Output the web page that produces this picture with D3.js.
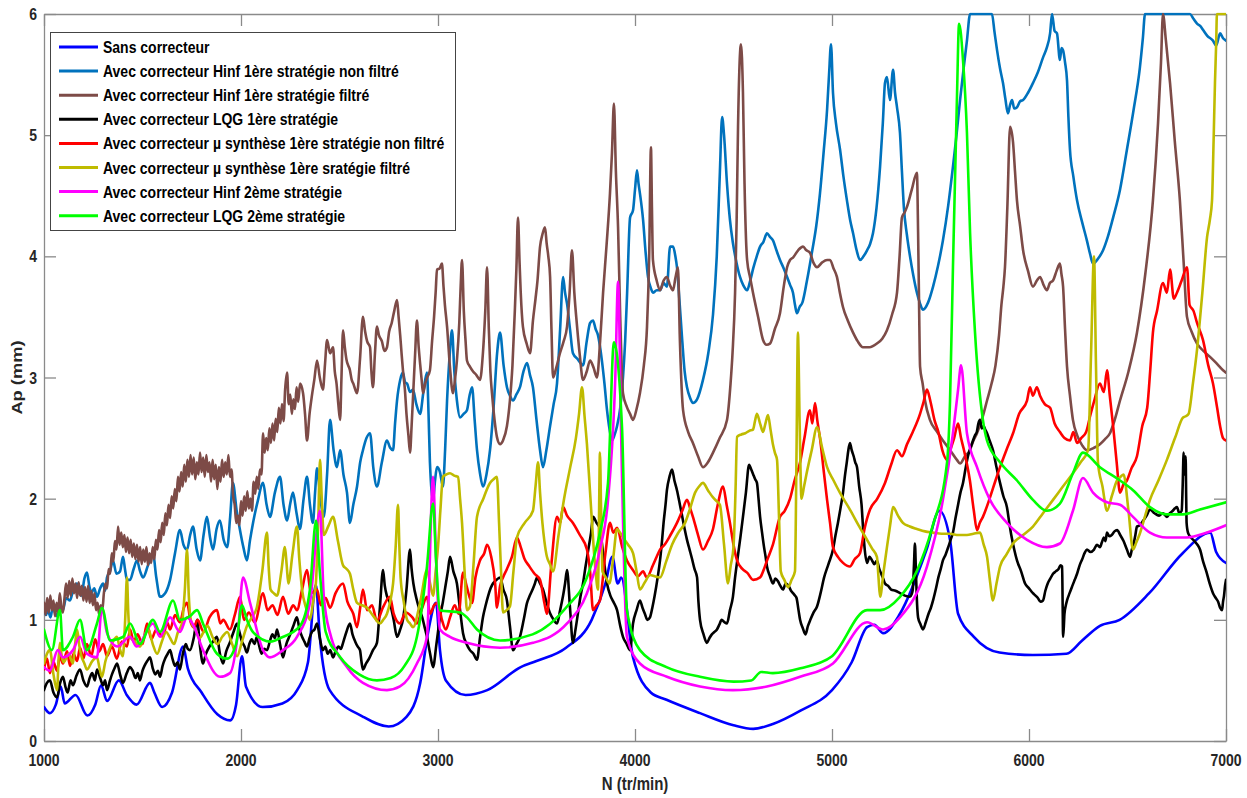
<!DOCTYPE html>
<html><head><meta charset="utf-8">
<script src="https://cdn.jsdelivr.net/npm/d3@7"></script>
<style>
body{margin:0;background:#fff}
svg{display:block}
text{font-family:"Liberation Sans",Arial,sans-serif;font-weight:bold}
</style>
</head><body>
<svg id="chart" width="1247" height="798"></svg>
<script>
const xTicks=[1000,2000,3000,4000,5000,6000,7000];
const yTicks=[0,1,2,3,4,5,6];
const xTitle="N (tr/min)";
const yTitle="Ap (mm)";
const seriesNames=["Sans correcteur","Avec correcteur Hinf 1ère stratégie non filtré","Avec correcteur Hinf 1ère stratégie filtré","Avec correcteur LQG 1ère stratégie","Avec correcteur µ synthèse 1ère stratégie non filtré","Avec correcteur µ synthèse 1ère sratégie filtré","Avec correcteur Hinf 2ème stratégie","Avec correcteur LQG 2ème stratégie"];
const seriesColors=["#0000ff","#0072bd","#7d4b47","#000000","#ff0000","#bfbb00","#ff00ff","#00ff00"];

const sansCorrecteur=[[1000,0.28],[1030,0.23],[1060,0.30],[1085,0.45],[1105,0.31],[1160,0.38],[1220,0.21],[1260,0.30],[1290,0.46],[1320,0.33],[1380,0.50],[1420,0.38],[1470,0.30],[1538,0.48],[1560,0.40],[1600,0.28],[1650,0.40],[1706,0.78],[1730,0.60],[1800,0.40],[1880,0.22],[1945,0.17],[1975,0.30],[2005,0.70],[2025,0.45],[2110,0.28],[2210,0.31],[2285,0.42],[2340,0.65],[2380,1.29],[2400,0.86],[2450,0.42],[2620,0.20],[2750,0.12],[2840,0.20],[2910,0.48],[2950,0.90],[2990,1.14],[3010,0.75],[3040,0.50],[3140,0.38],[3250,0.42],[3420,0.61],[3500,0.66],[3650,0.77],[3780,1.00],[3850,1.30],[3885,1.52],[3912,1.30],[3930,1.35],[3990,0.69],[4080,0.40],[4160,0.34],[4330,0.23],[4500,0.13],[4600,0.10],[4700,0.14],[4840,0.25],[5000,0.42],[5100,0.65],[5178,0.94],[5215,0.96],[5260,0.89],[5345,1.05],[5480,1.58],[5545,1.90],[5600,1.65],[5640,1.05],[5720,0.86],[5850,0.73],[6020,0.71],[6190,0.72],[6270,0.83],[6360,0.95],[6460,1.00],[6610,1.22],[6780,1.55],[6920,1.72],[6950,1.56],[7000,1.47]];

const hinf1NonFiltre=[[1000,1.10],[1010,1.04],[1020,1.08],[1033,1.02],[1046,1.12],[1056,1.06],[1066,1.03],[1080,1.10],[1096,1.08],[1112,1.18],[1132,1.16],[1150,1.26],[1168,1.30],[1180,1.22],[1190,1.20],[1205,1.34],[1218,1.39],[1230,1.28],[1240,1.22],[1255,1.26],[1269,1.19],[1285,1.26],[1300,1.30],[1310,1.24],[1320,1.35],[1335,1.40],[1350,1.49],[1368,1.38],[1386,1.40],[1401,1.52],[1411,1.42],[1421,1.33],[1437,1.33],[1455,1.42],[1472,1.49],[1488,1.40],[1503,1.35],[1528,1.45],[1553,1.55],[1570,1.35],[1589,1.19],[1615,1.22],[1640,1.33],[1665,1.55],[1690,1.74],[1708,1.62],[1726,1.58],[1742,1.70],[1756,1.77],[1775,1.58],[1792,1.49],[1810,1.70],[1827,1.85],[1843,1.68],[1858,1.58],[1876,1.75],[1893,1.82],[1912,1.66],[1930,1.60],[1945,1.85],[1959,2.13],[1978,1.90],[1995,1.74],[2012,1.60],[2030,1.49],[2046,1.66],[2061,1.80],[2085,1.98],[2112,2.13],[2130,1.95],[2147,1.85],[2172,2.05],[2198,2.18],[2216,1.95],[2234,1.82],[2250,1.96],[2264,2.05],[2282,1.88],[2299,1.75],[2318,2.00],[2335,2.18],[2350,1.95],[2365,1.80],[2376,2.05],[2386,2.25],[2403,2.00],[2420,1.85],[2437,2.20],[2452,2.65],[2470,2.40],[2487,2.26],[2503,2.40],[2520,2.20],[2538,2.05],[2553,1.80],[2570,1.95],[2589,2.10],[2605,2.30],[2619,2.40],[2637,2.50],[2655,2.54],[2672,2.25],[2690,2.10],[2715,2.30],[2741,2.48],[2757,2.42],[2772,2.40],[2782,2.62],[2792,2.81],[2808,2.98],[2822,3.04],[2833,2.96],[2843,2.95],[2858,2.88],[2873,2.90],[2890,2.78],[2909,2.70],[2926,2.88],[2944,3.04],[2952,2.70],[2959,2.30],[2975,1.99],[2985,2.15],[2995,2.26],[3010,2.22],[3025,2.10],[3036,2.40],[3046,2.81],[3060,3.20],[3071,3.39],[3083,3.05],[3096,2.81],[3112,2.67],[3130,2.70],[3147,2.73],[3160,2.85],[3173,2.92],[3186,2.65],[3198,2.40],[3213,2.21],[3228,2.10],[3246,2.20],[3264,2.40],[3282,2.75],[3300,3.20],[3315,3.37],[3333,3.10],[3350,2.92],[3365,2.85],[3381,2.81],[3398,2.86],[3416,2.92],[3434,3.05],[3452,3.12],[3467,3.02],[3482,2.92],[3500,2.65],[3518,2.40],[3533,2.26],[3550,2.40],[3569,2.60],[3587,2.78],[3604,2.95],[3620,3.40],[3635,3.83],[3645,3.70],[3655,3.61],[3670,3.40],[3685,3.20],[3710,3.15],[3736,3.10],[3755,3.30],[3772,3.45],[3787,3.47],[3800,3.40],[3812,3.35],[3832,3.14],[3845,2.95],[3858,2.73],[3870,2.58],[3883,2.48],[3895,2.52],[3909,2.60],[3925,2.75],[3939,3.00],[3950,3.30],[3960,3.70],[3975,4.32],[3990,4.38],[4000,4.55],[4010,4.71],[4018,4.60],[4025,4.52],[4041,4.30],[4053,4.05],[4066,3.83],[4080,3.74],[4091,3.70],[4110,3.72],[4127,3.72],[4145,3.78],[4162,3.75],[4178,4.08],[4193,4.08],[4205,4.00],[4213,3.91],[4225,3.65],[4240,3.30],[4252,3.05],[4264,2.92],[4280,2.83],[4294,2.79],[4315,2.82],[4345,2.98],[4372,3.20],[4396,3.52],[4415,4.00],[4431,4.70],[4442,5.15],[4452,5.00],[4467,4.60],[4482,4.30],[4497,4.11],[4515,3.95],[4533,3.83],[4550,3.76],[4569,3.72],[4585,3.80],[4600,3.90],[4618,4.00],[4635,4.08],[4652,4.12],[4670,4.19],[4685,4.16],[4701,4.13],[4718,4.05],[4736,3.97],[4755,3.90],[4772,3.83],[4788,3.76],[4802,3.70],[4812,3.60],[4822,3.53],[4835,3.58],[4850,3.62],[4873,3.80],[4900,4.05],[4920,4.25],[4939,4.52],[4957,4.85],[4975,5.21],[4985,5.50],[4995,5.75],[5005,5.35],[5020,5.10],[5041,4.88],[5058,4.66],[5076,4.46],[5092,4.30],[5107,4.19],[5125,4.05],[5142,3.97],[5160,4.00],[5178,4.05],[5193,4.10],[5208,4.19],[5226,4.40],[5244,4.74],[5258,5.10],[5269,5.43],[5279,5.48],[5294,5.29],[5310,5.54],[5320,5.35],[5330,5.23],[5345,5.02],[5355,4.70],[5365,4.40],[5380,4.18],[5396,4.00],[5413,3.84],[5431,3.70],[5447,3.61],[5462,3.56],[5488,3.62],[5513,3.75],[5538,3.92],[5563,4.13],[5590,4.42],[5614,4.74],[5632,5.00],[5650,5.29],[5668,5.55],[5685,5.78],[5701,6.00],[5812,6.00],[5825,5.85],[5838,5.70],[5853,5.55],[5868,5.43],[5880,5.30],[5893,5.18],[5904,5.25],[5914,5.29],[5925,5.22],[5939,5.23],[5955,5.28],[5970,5.29],[5995,5.35],[6020,5.43],[6045,5.52],[6071,5.64],[6090,5.72],[6107,5.84],[6117,6.00],[6130,5.86],[6142,5.84],[6157,5.62],[6165,5.72],[6173,5.70],[6183,5.60],[6193,5.45],[6200,5.15],[6208,4.88],[6225,4.66],[6244,4.46],[6270,4.28],[6294,4.13],[6310,4.02],[6325,3.94],[6350,3.98],[6376,4.05],[6400,4.16],[6427,4.32],[6462,4.55],[6497,4.88],[6530,5.20],[6563,5.56],[6578,5.80],[6589,6.00],[6817,6.00],[6835,5.96],[6853,5.92],[6870,5.90],[6883,5.87],[6905,5.82],[6934,5.78],[6950,5.74],[6970,5.84],[6985,5.80],[7000,5.78]];

const hinf1Filtre=[[1000,1.14],[1008,1.04],[1016,1.18],[1024,1.06],[1032,1.20],[1040,1.08],[1048,1.16],[1056,1.03],[1064,1.14],[1072,1.06],[1080,1.22],[1088,1.10],[1096,1.06],[1104,1.18],[1112,1.30],[1120,1.18],[1128,1.32],[1136,1.20],[1144,1.34],[1152,1.22],[1160,1.30],[1168,1.18],[1176,1.31],[1184,1.20],[1192,1.28],[1200,1.16],[1208,1.27],[1216,1.15],[1224,1.28],[1232,1.14],[1240,1.24],[1248,1.12],[1256,1.22],[1264,1.08],[1272,1.14],[1280,1.04],[1288,1.12],[1296,1.08],[1304,1.22],[1312,1.30],[1320,1.26],[1328,1.42],[1336,1.38],[1344,1.55],[1352,1.48],[1360,1.65],[1368,1.58],[1376,1.77],[1384,1.62],[1392,1.72],[1400,1.60],[1408,1.70],[1416,1.56],[1424,1.68],[1432,1.55],[1440,1.66],[1448,1.52],[1456,1.63],[1464,1.50],[1472,1.62],[1480,1.48],[1488,1.60],[1496,1.46],[1504,1.58],[1512,1.48],[1520,1.60],[1528,1.45],[1536,1.55],[1544,1.47],[1552,1.60],[1560,1.50],[1568,1.66],[1576,1.58],[1584,1.74],[1592,1.64],[1600,1.80],[1608,1.70],[1616,1.88],[1624,1.78],[1632,1.95],[1640,1.84],[1648,2.02],[1656,1.92],[1664,2.08],[1672,1.98],[1680,2.18],[1688,2.06],[1696,2.22],[1704,2.10],[1712,2.28],[1720,2.14],[1728,2.32],[1736,2.18],[1744,2.36],[1752,2.20],[1760,2.34],[1768,2.16],[1776,2.30],[1784,2.20],[1792,2.38],[1800,2.22],[1808,2.34],[1816,2.18],[1824,2.36],[1832,2.22],[1840,2.30],[1848,2.14],[1856,2.32],[1864,2.16],[1872,2.28],[1880,2.08],[1888,2.26],[1896,2.14],[1904,2.32],[1912,2.18],[1920,2.30],[1928,2.20],[1936,2.36],[1944,2.18],[1952,2.24],[1960,2.02],[1968,1.95],[1976,1.80],[1984,1.86],[1992,1.78],[2000,1.98],[2008,1.86],[2016,2.02],[2024,1.90],[2032,2.06],[2040,1.92],[2048,2.00],[2056,1.90],[2064,2.14],[2072,2.04],[2080,2.18],[2088,2.08],[2096,2.24],[2104,2.20],[2112,2.54],[2120,2.38],[2128,2.50],[2136,2.40],[2144,2.58],[2152,2.46],[2160,2.62],[2168,2.48],[2176,2.66],[2184,2.55],[2192,2.75],[2200,2.62],[2208,2.78],[2216,2.64],[2224,2.90],[2234,3.04],[2242,2.78],[2250,2.86],[2258,2.70],[2266,2.82],[2274,2.74],[2282,2.92],[2290,2.80],[2300,2.95],[2315,2.87],[2325,2.70],[2335,2.48],[2348,2.70],[2360,2.85],[2372,2.98],[2386,3.14],[2400,3.00],[2416,2.90],[2426,3.10],[2437,3.31],[2452,3.20],[2467,3.25],[2476,3.05],[2485,2.95],[2494,2.78],[2503,2.65],[2510,3.00],[2518,3.39],[2527,3.25],[2535,3.15],[2553,3.06],[2562,2.98],[2570,2.95],[2580,2.90],[2589,2.87],[2604,3.15],[2619,3.50],[2630,3.38],[2640,3.30],[2655,3.25],[2662,3.05],[2670,2.92],[2680,3.20],[2690,3.42],[2700,3.35],[2715,3.30],[2728,3.22],[2741,3.25],[2752,3.38],[2765,3.45],[2778,3.55],[2792,3.64],[2800,3.50],[2808,3.35],[2815,3.20],[2822,3.06],[2832,2.90],[2840,2.70],[2850,2.52],[2858,2.38],[2866,2.60],[2875,2.90],[2884,3.20],[2893,3.47],[2902,3.25],[2910,3.10],[2917,2.98],[2924,2.87],[2935,2.95],[2945,3.00],[2959,3.06],[2970,3.30],[2980,3.50],[2988,3.70],[2995,3.89],[3008,3.90],[3020,3.94],[3028,3.75],[3035,3.60],[3046,3.42],[3060,3.10],[3076,2.87],[3086,2.98],[3096,3.14],[3108,3.45],[3115,3.75],[3122,3.97],[3131,3.55],[3140,3.30],[3147,3.14],[3162,3.09],[3178,3.05],[3195,3.02],[3213,2.98],[3228,3.20],[3240,3.55],[3249,3.91],[3258,3.40],[3266,3.05],[3274,2.87],[3287,2.65],[3299,2.51],[3315,2.45],[3330,2.48],[3350,2.60],[3365,2.81],[3378,3.10],[3390,3.55],[3398,3.90],[3406,4.32],[3414,3.95],[3420,3.70],[3431,3.42],[3450,3.28],[3467,3.20],[3482,3.47],[3495,3.65],[3505,3.80],[3518,4.08],[3530,4.18],[3543,4.24],[3552,4.10],[3560,4.00],[3569,3.83],[3576,3.40],[3584,3.00],[3600,3.08],[3619,3.20],[3638,3.30],[3655,3.42],[3668,3.70],[3680,4.05],[3692,3.70],[3706,3.42],[3720,3.18],[3736,2.98],[3755,3.05],[3772,3.14],[3790,3.08],[3807,3.00],[3823,3.30],[3838,3.70],[3856,4.10],[3873,4.52],[3883,4.85],[3893,5.26],[3903,4.70],[3914,4.24],[3925,3.50],[3939,2.87],[3958,2.76],[3975,2.70],[3990,2.65],[4008,2.74],[4025,2.87],[4045,3.10],[4061,3.42],[4072,4.00],[4081,4.90],[4086,4.40],[4091,3.97],[4110,3.80],[4127,3.72],[4145,3.80],[4162,3.83],[4178,3.76],[4193,3.72],[4205,3.82],[4218,3.91],[4228,3.30],[4244,2.73],[4270,2.55],[4294,2.46],[4320,2.35],[4345,2.26],[4370,2.30],[4396,2.38],[4430,2.50],[4467,2.65],[4485,2.95],[4495,3.20],[4508,3.70],[4516,4.30],[4523,5.07],[4538,5.75],[4548,5.35],[4556,4.60],[4569,3.97],[4585,3.82],[4599,3.70],[4625,3.50],[4650,3.31],[4668,3.27],[4685,3.28],[4710,3.40],[4736,3.53],[4755,3.75],[4772,3.91],[4787,3.97],[4802,3.99],[4828,4.05],[4853,4.08],[4870,4.05],[4888,4.03],[4905,3.95],[4924,3.91],[4950,3.95],[4975,3.97],[4990,3.97],[5008,3.90],[5025,3.83],[5040,3.70],[5056,3.58],[5080,3.47],[5107,3.37],[5130,3.30],[5157,3.25],[5190,3.25],[5228,3.28],[5255,3.32],[5279,3.39],[5305,3.52],[5330,3.70],[5343,4.00],[5355,4.32],[5368,4.36],[5381,4.41],[5405,4.55],[5431,4.69],[5437,4.20],[5442,3.60],[5447,3.09],[5460,2.95],[5472,2.81],[5497,2.65],[5530,2.56],[5563,2.48],[5600,2.40],[5634,2.32],[5650,2.29],[5675,2.35],[5700,2.40],[5718,2.48],[5736,2.54],[5762,2.66],[5787,2.81],[5810,2.95],[5830,3.10],[5848,3.35],[5860,3.60],[5870,3.75],[5878,3.91],[5890,4.40],[5904,5.07],[5919,4.94],[5929,4.70],[5939,4.46],[5955,4.25],[5970,4.05],[5995,3.88],[6020,3.75],[6040,3.80],[6056,3.83],[6075,3.76],[6091,3.72],[6106,3.78],[6122,3.80],[6140,3.88],[6157,3.94],[6165,3.85],[6173,3.75],[6183,3.40],[6193,3.09],[6208,2.85],[6223,2.65],[6245,2.52],[6270,2.44],[6294,2.40],[6330,2.42],[6360,2.45],[6385,2.49],[6411,2.54],[6435,2.65],[6462,2.81],[6505,3.05],[6548,3.37],[6590,3.85],[6629,4.46],[6655,5.10],[6670,5.60],[6680,6.00],[6695,5.78],[6716,5.43],[6740,4.95],[6766,4.46],[6785,3.95],[6802,3.50],[6825,3.38],[6853,3.28],[6885,3.22],[6919,3.17],[6950,3.12],[6985,3.06],[7000,3.04]];

const lqg1=[[1000,0.42],[1015,0.48],[1030,0.50],[1048,0.40],[1066,0.36],[1082,0.48],[1096,0.53],[1110,0.44],[1120,0.40],[1135,0.50],[1147,0.46],[1165,0.54],[1183,0.59],[1200,0.50],[1218,0.45],[1232,0.52],[1245,0.56],[1258,0.50],[1269,0.59],[1285,0.52],[1300,0.46],[1310,0.50],[1320,0.42],[1335,0.50],[1345,0.55],[1358,0.60],[1371,0.64],[1386,0.55],[1401,0.48],[1420,0.56],[1437,0.61],[1450,0.58],[1465,0.52],[1476,0.56],[1487,0.50],[1500,0.58],[1510,0.62],[1524,0.66],[1538,0.69],[1552,0.60],[1565,0.55],[1578,0.58],[1589,0.53],[1602,0.62],[1615,0.68],[1628,0.72],[1640,0.75],[1652,0.68],[1665,0.62],[1678,0.65],[1690,0.59],[1705,0.72],[1720,0.80],[1730,0.76],[1741,0.75],[1760,0.85],[1777,1.00],[1792,0.78],[1807,0.64],[1822,0.72],[1840,0.78],[1858,0.82],[1878,0.86],[1893,0.72],[1909,0.64],[1925,0.74],[1945,0.82],[1962,0.90],[1980,0.97],[1992,0.90],[2005,0.82],[2018,0.78],[2030,0.73],[2042,0.80],[2055,0.84],[2068,0.80],[2081,0.86],[2093,0.78],[2105,0.72],[2118,0.76],[2132,0.75],[2146,0.82],[2160,0.88],[2172,0.85],[2183,0.92],[2198,0.80],[2213,0.69],[2230,0.80],[2250,0.88],[2268,0.96],[2284,1.02],[2297,0.92],[2310,0.86],[2322,0.82],[2335,0.78],[2348,0.85],[2360,0.90],[2373,0.92],[2386,0.97],[2400,0.85],[2416,0.75],[2428,0.78],[2440,0.72],[2453,0.75],[2467,0.69],[2480,0.74],[2495,0.78],[2507,0.76],[2518,0.81],[2535,0.90],[2553,0.97],[2566,0.88],[2580,0.82],[2592,0.78],[2604,0.75],[2612,0.65],[2619,0.59],[2635,0.64],[2650,0.68],[2670,0.75],[2690,0.81],[2705,1.10],[2721,1.41],[2730,1.28],[2740,1.20],[2756,1.14],[2775,1.00],[2792,0.86],[2808,0.92],[2822,1.00],[2840,1.25],[2858,1.58],[2866,1.42],[2875,1.30],[2893,1.16],[2907,1.08],[2920,1.02],[2932,0.94],[2944,0.86],[2960,0.72],[2975,0.61],[2992,0.80],[3010,1.02],[3025,1.15],[3040,1.30],[3050,1.40],[3061,1.52],[3078,1.40],[3096,1.30],[3112,1.08],[3127,0.89],[3145,0.80],[3162,0.75],[3180,0.72],[3198,0.67],[3213,0.85],[3228,1.02],[3242,1.12],[3255,1.20],[3267,1.26],[3279,1.30],[3297,1.33],[3315,1.35],[3332,1.25],[3350,1.16],[3365,0.95],[3381,0.75],[3398,0.80],[3416,0.86],[3435,1.00],[3452,1.14],[3466,1.20],[3480,1.25],[3492,1.30],[3503,1.35],[3518,1.30],[3533,1.25],[3550,1.15],[3570,1.05],[3587,1.00],[3604,0.97],[3620,1.08],[3635,1.20],[3645,1.30],[3655,1.41],[3670,1.10],[3685,0.81],[3698,0.92],[3710,1.05],[3722,1.18],[3736,1.30],[3750,1.45],[3765,1.60],[3777,1.72],[3787,1.85],[3805,1.80],[3822,1.75],[3840,1.52],[3858,1.30],[3875,1.20],[3890,1.15],[3909,1.08],[3925,0.95],[3939,0.86],[3958,0.80],[3975,0.75],[3990,0.97],[4008,1.08],[4025,1.16],[4038,1.10],[4050,1.05],[4063,1.00],[4076,1.02],[4088,1.10],[4100,1.20],[4115,1.35],[4127,1.49],[4137,1.65],[4145,1.80],[4155,1.95],[4162,2.07],[4175,2.18],[4188,2.24],[4200,2.15],[4213,2.07],[4228,1.95],[4240,1.85],[4252,1.75],[4264,1.66],[4277,1.58],[4290,1.50],[4302,1.42],[4315,1.35],[4322,1.15],[4330,1.00],[4348,0.88],[4365,0.81],[4378,0.85],[4390,0.88],[4403,0.90],[4416,0.92],[4428,0.96],[4440,1.00],[4454,0.98],[4467,0.97],[4482,1.08],[4497,1.19],[4508,1.35],[4520,1.50],[4535,1.68],[4548,1.85],[4563,2.05],[4579,2.28],[4590,2.24],[4600,2.20],[4610,2.16],[4619,2.13],[4627,2.00],[4635,1.85],[4645,1.72],[4655,1.60],[4663,1.52],[4670,1.44],[4685,1.36],[4701,1.30],[4712,1.34],[4725,1.32],[4738,1.28],[4751,1.25],[4765,1.30],[4780,1.28],[4792,1.24],[4802,1.22],[4812,1.20],[4820,1.18],[4830,1.08],[4838,1.00],[4852,0.93],[4865,0.88],[4878,0.95],[4890,1.00],[4906,1.06],[4924,1.11],[4942,1.22],[4960,1.35],[4982,1.46],[5005,1.58],[5018,1.70],[5030,1.80],[5043,1.92],[5056,2.05],[5065,2.18],[5075,2.30],[5083,2.40],[5091,2.46],[5100,2.40],[5110,2.35],[5118,2.30],[5127,2.26],[5138,2.10],[5150,1.95],[5158,1.75],[5165,1.60],[5178,1.47],[5190,1.52],[5200,1.50],[5215,1.46],[5228,1.49],[5240,1.42],[5250,1.38],[5260,1.34],[5269,1.30],[5285,1.28],[5300,1.25],[5322,1.24],[5345,1.22],[5370,1.20],[5396,1.19],[5404,1.21],[5410,1.25],[5416,1.45],[5421,1.63],[5426,1.40],[5430,1.20],[5437,1.02],[5450,0.96],[5462,0.92],[5476,0.98],[5490,1.05],[5502,1.10],[5513,1.16],[5528,1.26],[5540,1.35],[5552,1.42],[5563,1.49],[5577,1.54],[5590,1.60],[5602,1.66],[5614,1.72],[5627,1.84],[5640,1.95],[5652,2.05],[5665,2.13],[5677,2.24],[5690,2.35],[5703,2.42],[5716,2.48],[5725,2.52],[5735,2.55],[5743,2.62],[5751,2.65],[5760,2.58],[5770,2.60],[5778,2.57],[5787,2.54],[5800,2.48],[5817,2.40],[5835,2.26],[5853,2.13],[5870,2.02],[5888,1.93],[5900,1.80],[5910,1.70],[5925,1.58],[5939,1.49],[5960,1.40],[5980,1.30],[6000,1.26],[6020,1.22],[6033,1.20],[6045,1.18],[6058,1.15],[6071,1.16],[6083,1.24],[6095,1.30],[6108,1.34],[6122,1.38],[6136,1.40],[6150,1.42],[6160,1.45],[6168,1.44],[6171,1.10],[6173,0.86],[6177,0.95],[6180,1.05],[6187,1.12],[6193,1.16],[6206,1.22],[6220,1.28],[6232,1.33],[6244,1.38],[6257,1.45],[6270,1.50],[6282,1.55],[6294,1.58],[6312,1.56],[6330,1.58],[6345,1.62],[6360,1.60],[6370,1.64],[6380,1.68],[6388,1.65],[6396,1.72],[6408,1.69],[6420,1.70],[6434,1.73],[6447,1.74],[6463,1.70],[6480,1.65],[6497,1.58],[6513,1.52],[6522,1.58],[6530,1.62],[6540,1.70],[6548,1.77],[6563,1.78],[6580,1.82],[6597,1.86],[6614,1.91],[6637,1.88],[6660,1.86],[6680,1.88],[6700,1.85],[6715,1.88],[6730,1.90],[6741,1.92],[6751,1.93],[6763,1.88],[6775,1.90],[6780,2.10],[6785,2.38],[6790,2.20],[6795,2.35],[6798,2.00],[6800,1.80],[6807,1.72],[6822,1.68],[6840,1.65],[6855,1.62],[6868,1.58],[6884,1.48],[6900,1.40],[6917,1.30],[6934,1.22],[6948,1.18],[6960,1.15],[6970,1.10],[6980,1.08],[6985,1.15],[6990,1.20],[6995,1.28],[7000,1.33]];

const muNonFiltre=[[1000,0.59],[1015,0.68],[1030,0.56],[1046,0.66],[1066,0.58],[1081,0.70],[1096,0.64],[1117,0.74],[1132,0.62],[1150,0.72],[1168,0.66],[1183,0.77],[1200,0.68],[1218,0.80],[1240,0.70],[1260,0.84],[1280,0.74],[1300,0.80],[1320,0.70],[1345,0.78],[1370,0.68],[1395,0.82],[1421,0.78],[1437,0.92],[1455,0.82],[1475,0.88],[1500,0.80],[1523,0.97],[1545,0.84],[1570,0.92],[1604,0.86],[1625,0.98],[1640,0.92],[1665,1.04],[1690,0.98],[1710,1.10],[1726,1.14],[1745,0.98],[1760,0.94],[1780,1.00],[1810,0.90],[1840,1.02],[1878,1.08],[1895,0.97],[1910,1.00],[1944,0.92],[1970,1.05],[1995,1.19],[2015,1.00],[2040,1.06],[2070,0.98],[2112,1.22],[2135,1.08],[2160,1.12],[2185,1.04],[2213,1.19],[2240,1.05],[2265,1.12],[2284,1.08],[2310,1.25],[2335,1.41],[2355,1.22],[2386,1.25],[2405,1.12],[2430,1.18],[2452,1.10],[2480,1.22],[2518,1.30],[2540,1.15],[2570,1.05],[2589,0.94],[2605,1.10],[2619,1.25],[2640,1.08],[2665,1.12],[2690,0.99],[2720,1.10],[2756,1.19],[2775,1.05],[2807,0.97],[2835,1.06],[2870,1.02],[2893,0.97],[2920,1.10],[2944,1.19],[2960,1.05],[2980,1.12],[3000,1.14],[3020,1.00],[3040,0.92],[3061,1.02],[3085,1.12],[3105,1.05],[3127,1.39],[3145,1.28],[3173,1.14],[3190,1.35],[3213,1.49],[3235,1.55],[3249,1.62],[3270,1.52],[3290,1.30],[3299,1.10],[3315,1.28],[3330,1.35],[3350,1.42],[3375,1.52],[3401,1.68],[3420,1.60],[3440,1.50],[3460,1.45],[3490,1.38],[3518,1.33],[3540,1.14],[3553,1.05],[3575,1.45],[3604,1.85],[3620,1.80],[3635,1.93],[3655,1.86],[3685,1.80],[3720,1.70],[3756,1.58],[3772,1.40],[3787,1.08],[3805,1.12],[3822,1.16],[3850,1.55],[3873,1.80],[3890,1.72],[3909,1.76],[3935,1.60],[3959,1.49],[3990,1.41],[4015,1.36],[4041,1.40],[4060,1.35],[4091,1.45],[4110,1.52],[4127,1.58],[4150,1.62],[4180,1.70],[4213,1.80],[4240,1.90],[4264,1.99],[4280,1.92],[4294,1.85],[4320,1.70],[4345,1.58],[4370,1.65],[4396,1.75],[4420,1.95],[4447,2.10],[4465,1.95],[4482,1.80],[4500,1.62],[4518,1.49],[4545,1.42],[4569,1.39],[4600,1.33],[4635,1.35],[4655,1.42],[4670,1.49],[4700,1.62],[4736,1.85],[4760,1.90],[4787,2.00],[4810,2.15],[4838,2.30],[4860,2.50],[4888,2.73],[4900,2.62],[4914,2.79],[4925,2.65],[4939,2.50],[4960,2.20],[4975,1.99],[4990,1.80],[5005,1.60],[5030,1.52],[5056,1.47],[5091,1.44],[5115,1.50],[5142,1.55],[5165,1.75],[5193,1.91],[5230,2.00],[5269,2.13],[5300,2.28],[5330,2.40],[5355,2.35],[5381,2.45],[5410,2.55],[5447,2.70],[5465,2.80],[5482,2.90],[5500,2.80],[5520,2.65],[5540,2.55],[5560,2.40],[5584,2.32],[5600,2.40],[5620,2.50],[5640,2.62],[5655,2.50],[5670,2.40],[5700,2.15],[5720,1.90],[5736,1.74],[5750,1.80],[5766,1.85],[5800,2.00],[5830,2.15],[5853,2.26],[5885,2.40],[5919,2.54],[5950,2.70],[5990,2.81],[6005,2.92],[6020,2.85],[6040,2.92],[6056,2.85],[6080,2.78],[6107,2.75],[6130,2.62],[6157,2.55],[6180,2.50],[6208,2.48],[6225,2.55],[6244,2.46],[6265,2.50],[6290,2.55],[6310,2.68],[6330,2.80],[6360,2.95],[6380,2.88],[6396,3.06],[6410,2.85],[6427,2.60],[6445,2.30],[6462,2.05],[6480,2.12],[6497,2.15],[6520,2.25],[6548,2.35],[6575,2.60],[6600,2.75],[6615,3.05],[6629,3.37],[6650,3.55],[6680,3.78],[6700,3.70],[6716,3.89],[6735,3.65],[6751,3.70],[6775,3.80],[6802,3.91],[6815,3.60],[6835,3.55],[6853,3.45],[6883,3.31],[6910,3.10],[6934,2.95],[6955,2.75],[6970,2.60],[6985,2.50],[7000,2.48]];

const muFiltre=[[1000,0.64],[1015,0.72],[1030,0.75],[1048,0.55],[1066,0.42],[1075,0.70],[1081,0.81],[1090,0.70],[1100,0.65],[1125,0.72],[1147,0.64],[1158,0.80],[1168,0.92],[1180,0.78],[1190,0.70],[1205,0.64],[1218,0.59],[1245,0.66],[1269,0.69],[1282,0.60],[1294,0.53],[1312,0.66],[1330,0.75],[1350,0.82],[1370,0.86],[1385,0.76],[1400,0.70],[1412,1.00],[1421,1.35],[1428,1.05],[1437,0.86],[1462,0.82],[1487,0.78],[1508,0.86],[1530,0.92],[1552,0.80],[1574,0.72],[1598,0.82],[1620,0.90],[1640,0.85],[1660,0.80],[1680,0.90],[1700,0.97],[1715,1.25],[1726,1.58],[1735,1.20],[1745,1.00],[1768,0.92],[1790,0.85],[1810,0.90],[1830,0.95],[1855,0.86],[1880,0.80],[1905,0.86],[1930,0.90],[1955,0.80],[1980,0.70],[2005,0.82],[2030,0.95],[2055,1.02],[2080,1.10],[2108,1.40],[2132,1.72],[2140,1.45],[2150,1.25],[2166,1.22],[2183,1.20],[2205,1.40],[2223,1.60],[2232,1.45],[2240,1.30],[2262,1.55],[2284,1.77],[2296,1.50],[2310,1.25],[2330,1.10],[2350,1.00],[2366,1.15],[2380,1.30],[2392,1.80],[2401,2.32],[2410,2.00],[2420,1.70],[2445,1.78],[2467,1.85],[2492,1.65],[2518,1.45],[2536,1.42],[2553,1.38],[2570,1.25],[2589,1.14],[2615,1.12],[2640,1.10],[2672,1.03],[2706,0.97],[2722,1.00],[2741,1.05],[2757,1.15],[2772,1.30],[2785,1.60],[2797,1.95],[2804,1.60],[2810,1.35],[2826,1.15],[2843,1.00],[2858,0.97],[2873,0.94],[2910,1.15],[2944,1.41],[2960,1.30],[2975,1.20],[2988,1.40],[3000,1.60],[3012,1.90],[3025,2.18],[3043,2.20],[3061,2.21],[3082,2.19],[3102,2.18],[3112,2.00],[3122,1.80],[3135,1.40],[3147,1.08],[3162,1.11],[3180,1.45],[3198,1.85],[3230,2.00],[3264,2.13],[3282,2.16],[3299,2.18],[3310,1.80],[3320,1.40],[3330,1.06],[3348,1.08],[3365,1.11],[3383,1.40],[3401,1.68],[3440,1.80],[3482,1.90],[3495,2.10],[3508,2.30],[3518,2.05],[3530,1.80],[3540,1.65],[3553,1.52],[3568,1.46],[3584,1.40],[3612,1.70],[3640,2.00],[3670,2.25],[3700,2.50],[3716,2.70],[3731,2.92],[3744,2.68],[3756,2.45],[3772,2.05],[3790,1.60],[3800,1.40],[3812,1.25],[3817,1.80],[3822,2.38],[3828,1.90],[3835,1.40],[3852,1.35],[3870,1.30],[3890,1.52],[3909,1.75],[3924,1.72],[3939,1.68],[3965,1.62],[3990,1.55],[4008,1.40],[4025,1.25],[4050,1.31],[4076,1.37],[4100,1.36],[4127,1.35],[4158,1.48],[4188,1.62],[4220,1.72],[4254,1.80],[4280,1.92],[4305,2.05],[4325,2.10],[4345,2.13],[4370,2.07],[4396,2.01],[4414,1.98],[4431,1.95],[4452,1.62],[4472,1.30],[4486,1.45],[4500,1.60],[4510,2.05],[4518,2.51],[4540,2.53],[4560,2.54],[4580,2.56],[4599,2.57],[4609,2.64],[4619,2.70],[4635,2.62],[4650,2.55],[4662,2.62],[4675,2.69],[4688,2.57],[4700,2.45],[4710,2.38],[4721,2.32],[4731,1.85],[4740,1.40],[4758,1.33],[4777,1.27],[4795,1.33],[4812,1.40],[4820,2.40],[4827,3.37],[4836,2.60],[4845,2.00],[4858,2.10],[4870,2.20],[4897,2.40],[4924,2.59],[4950,2.42],[4975,2.26],[5008,2.15],[5040,2.05],[5065,1.98],[5091,1.91],[5135,1.78],[5178,1.66],[5203,1.59],[5228,1.52],[5236,1.35],[5244,1.19],[5262,1.40],[5279,1.60],[5295,1.78],[5310,1.93],[5335,1.86],[5360,1.80],[5395,1.77],[5431,1.75],[5472,1.73],[5513,1.72],[5556,1.71],[5599,1.71],[5642,1.70],[5685,1.70],[5718,1.71],[5751,1.72],[5770,1.62],[5787,1.52],[5802,1.32],[5817,1.16],[5835,1.30],[5853,1.44],[5886,1.54],[5919,1.63],[5970,1.70],[6020,1.77],[6071,1.88],[6122,1.99],[6172,2.10],[6223,2.21],[6262,2.30],[6300,2.40],[6315,3.20],[6330,4.00],[6340,3.10],[6350,2.30],[6373,2.10],[6396,1.90],[6420,2.02],[6447,2.15],[6465,2.18],[6480,2.20],[6505,1.90],[6528,1.58],[6545,1.64],[6560,1.70],[6588,1.85],[6614,1.99],[6657,2.15],[6700,2.32],[6741,2.50],[6782,2.67],[6796,2.68],[6810,2.70],[6832,2.95],[6853,3.23],[6880,3.70],[6904,4.16],[6918,4.30],[6929,4.46],[6937,4.95],[6944,5.43],[6950,5.75],[6954,6.00],[7000,6.00]];

const hinf2=[[1000,0.61],[1030,0.58],[1070,0.75],[1096,0.69],[1147,0.75],[1183,0.86],[1218,0.72],[1269,0.69],[1294,1.10],[1320,0.89],[1371,0.78],[1437,0.86],[1470,0.78],[1553,0.97],[1589,0.86],[1640,1.02],[1690,0.90],[1726,1.02],[1760,0.95],[1807,0.75],[1893,0.53],[1944,0.56],[1985,0.90],[2010,1.35],[2046,1.14],[2112,0.75],[2147,0.69],[2213,0.75],[2284,0.86],[2350,1.14],[2401,1.90],[2420,1.20],[2452,0.89],[2538,0.61],[2619,0.48],[2741,0.42],[2807,0.45],[2893,0.64],[2944,0.86],[2975,2.18],[2990,1.50],[3010,0.92],[3061,0.86],[3147,0.81],[3315,0.77],[3482,0.81],[3655,0.97],[3756,1.22],[3822,1.58],[3863,1.99],[3900,3.00],[3914,3.79],[3930,2.50],[3959,0.86],[4025,0.64],[4162,0.53],[4330,0.45],[4497,0.42],[4670,0.45],[4838,0.53],[5005,0.64],[5178,0.98],[5259,0.92],[5345,1.02],[5482,1.44],[5563,1.99],[5614,2.54],[5640,2.90],[5655,3.10],[5685,2.54],[5736,2.26],[5802,1.99],[5888,1.80],[5990,1.66],[6091,1.60],[6157,1.63],[6223,1.90],[6274,2.17],[6325,2.05],[6396,1.97],[6462,1.95],[6528,1.85],[6614,1.72],[6700,1.68],[6802,1.68],[6904,1.72],[7000,1.78]];

const lqg2=[[1000,0.92],[1040,0.75],[1081,1.08],[1096,0.75],[1147,0.86],[1183,1.00],[1218,0.75],[1269,0.97],[1294,1.10],[1335,0.83],[1401,0.86],[1437,0.97],[1487,0.80],[1553,1.00],[1589,0.90],[1655,1.16],[1690,1.00],[1741,1.03],[1777,1.08],[1807,0.97],[1878,0.72],[1930,0.68],[1975,0.80],[2005,1.12],[2030,1.00],[2060,0.90],[2150,0.82],[2200,0.85],[2300,0.95],[2350,1.25],[2381,1.82],[2400,1.40],[2430,0.90],[2500,0.70],[2600,0.55],[2690,0.50],[2760,0.52],[2830,0.62],[2893,0.86],[2944,1.44],[2975,1.96],[2990,1.50],[3010,1.08],[3112,1.06],[3147,1.02],[3198,0.92],[3315,0.83],[3480,0.88],[3655,1.11],[3756,1.35],[3822,1.72],[3863,2.13],[3893,3.29],[3934,2.59],[3959,1.08],[4025,0.75],[4160,0.61],[4330,0.53],[4500,0.49],[4590,0.50],[4640,0.57],[4700,0.56],[4840,0.60],[5000,0.70],[5178,1.08],[5244,1.08],[5345,1.19],[5430,1.40],[5510,1.77],[5584,2.30],[5599,2.80],[5614,3.91],[5634,5.29],[5645,5.92],[5665,5.62],[5685,5.02],[5701,4.19],[5726,3.37],[5766,2.65],[5787,2.48],[5853,2.30],[5939,2.15],[6020,1.99],[6090,1.90],[6157,1.96],[6223,2.21],[6274,2.38],[6360,2.26],[6462,2.15],[6528,2.07],[6614,1.93],[6700,1.87],[6782,1.87],[6868,1.91],[7000,1.97]];

const allSeries=[sansCorrecteur,hinf1NonFiltre,hinf1Filtre,lqg1,muNonFiltre,muFiltre,hinf2,lqg2];

const svg=d3.select("#chart");
const L=44,R=1226,T=14,B=741;
const x=d3.scaleLinear().domain([1000,7000]).range([L,R]);
const y=d3.scaleLinear().domain([0,6]).range([B,T]);
const axisColor="#8a8a8a";

svg.append("defs").append("clipPath").attr("id","clip")
  .append("rect").attr("x",L).attr("y",T-1.5).attr("width",R-L).attr("height",B-T+1.5);

function styleAxis(g){g.select(".domain").attr("stroke",axisColor).attr("stroke-width",1.3);g.selectAll(".tick line").attr("stroke",axisColor).attr("stroke-width",1.3);g.selectAll("text").remove();}
svg.append("g").attr("transform",`translate(0,${B})`).call(d3.axisBottom(x).tickValues(xTicks).tickSizeInner(-12).tickSizeOuter(0).tickFormat("")).call(styleAxis);
svg.append("g").attr("transform",`translate(0,${T})`).call(d3.axisTop(x).tickValues(xTicks).tickSizeInner(-12).tickSizeOuter(0).tickFormat("")).call(styleAxis);
svg.append("g").attr("transform",`translate(${L},0)`).call(d3.axisLeft(y).tickValues(yTicks).tickSizeInner(-12).tickSizeOuter(0).tickFormat("")).call(styleAxis);
svg.append("g").attr("transform",`translate(${R},0)`).call(d3.axisRight(y).tickValues(yTicks).tickSizeInner(-12).tickSizeOuter(0).tickFormat("")).call(styleAxis);

const SY=1.22;
function stretchedText(px,py,str,anchor,size,color){
  const g=svg.append("g").attr("transform",`translate(${px},${py}) scale(1,${SY})`);
  g.append("text").attr("x",0).attr("y",0).attr("text-anchor",anchor).attr("font-size",size).attr("fill",color).text(str);
  return g;
}
xTicks.forEach(v=>stretchedText(x(v),766,String(v),"middle",14,"#262626"));
yTicks.forEach(v=>stretchedText(37,y(v)+6,String(v),"end",14,"#262626"));
stretchedText((L+R)/2,790,xTitle,"middle",15,"#262626");
svg.append("g").attr("transform",`translate(22,${(T+B)/2}) rotate(-90) scale(${SY},1)`)
  .append("text").attr("text-anchor","middle").attr("font-size",15).attr("fill","#262626").text(yTitle);

const plot=svg.append("g").attr("clip-path","url(#clip)");
const line=d3.line().x(d=>x(d[0])).y(d=>y(d[1])).curve(d3.curveMonotoneX);
allSeries.forEach((s,i)=>{
  plot.append("path").datum(s).attr("d",line).attr("fill","none").attr("stroke",seriesColors[i])
    .attr("stroke-width",2.6).attr("stroke-linejoin","round").attr("stroke-linecap","round");
});

const lg=svg.append("g");
lg.append("rect").attr("x",50.5).attr("y",32.5).attr("width",405).attr("height",198).attr("fill","#fff").attr("stroke","#444").attr("stroke-width",1);
seriesNames.forEach((n,i)=>{
  const ry=47+i*24.1;
  lg.append("line").attr("x1",59).attr("x2",98).attr("y1",ry).attr("y2",ry).attr("stroke",seriesColors[i]).attr("stroke-width",3);
  const g=lg.append("g").attr("transform",`translate(103,${ry+6}) scale(1,${SY})`);
  g.append("text").attr("font-size",14).attr("fill","#000").text(n);
});
</script>
</body></html>
